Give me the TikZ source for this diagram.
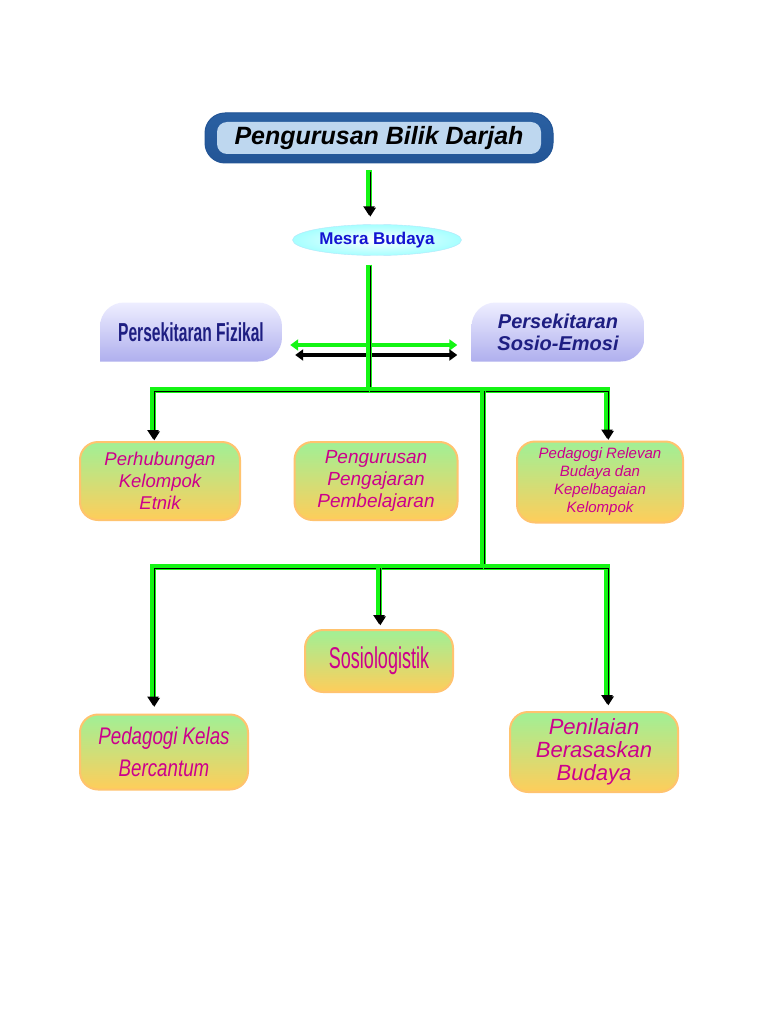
\documentclass[tikz,border=0pt]{standalone}
\usepackage{fontspec}
\setmainfont{Liberation Sans}
\newfontfamily\narrowfont[FakeStretch=0.6]{Liberation Sans}
\newfontfamily\semifont[FakeStretch=0.78]{Liberation Sans}
\usetikzlibrary{arrows.meta}
\usetikzlibrary{shapes.geometric}

\definecolor{lgreen}{RGB}{20,245,20}
\definecolor{boxtop}{RGB}{160,240,150}
\definecolor{boxmid}{RGB}{225,240,125}
\definecolor{boxbot}{RGB}{255,205,90}
\definecolor{boxglow}{RGB}{255,195,110}
\definecolor{txtmag}{RGB}{204,0,140}
\definecolor{envtop}{RGB}{238,238,255}
\definecolor{envbot}{RGB}{175,175,238}
\definecolor{envtxt}{RGB}{30,30,130}
\definecolor{titleout}{RGB}{70,140,210}
\definecolor{titlemid}{RGB}{232,245,253}
\definecolor{titleline}{RGB}{35,85,150}
\definecolor{mesratxt}{RGB}{20,20,210}

\tikzset{
  link/.style={draw=lgreen, line width=6pt,
    postaction={draw=black, line width=1.5pt, transform canvas={xshift=1.3pt, yshift=-1.3pt}}},
  flow/.style={link, -{Triangle[black, length=9pt, width=11pt]}},
  twoway/.style={line width=4pt, {Triangle[length=8pt, width=11pt]}-{Triangle[length=8pt, width=11pt]}},
  titlebox/.style={rounded corners=20pt, minimum width=348pt, minimum height=50pt,
    draw=titleline, line width=1pt, fill=titleout,
    path picture={
      \shade[top color=titleline!80!titleout, middle color=titleout!75!white, bottom color=titleline]
        (path picture bounding box.south west) rectangle (path picture bounding box.north east);
      \shade[rounded corners=10pt, top color=titleout!35!white, middle color=titlemid, bottom color=titleout!35!white]
        ([shift={(12pt,-9pt)}]path picture bounding box.north west)
        rectangle ([shift={(-12pt,9pt)}]path picture bounding box.south east);},
    font=\bfseries\itshape\fontsize{25}{28}\selectfont},
  mesrabox/.style={ellipse, minimum width=169pt, minimum height=31pt, inner sep=1pt,
    inner color=white, outer color=cyan!35, draw=cyan!30,
    text=mesratxt, font=\bfseries\fontsize{17}{19}\selectfont},
  envbox/.style={minimum height=59pt, inner sep=3pt, align=center, text=envtxt, fill=white,
    path picture={\shade[top color=envtop, bottom color=envbot]
      (path picture bounding box.south west) [rounded corners=24pt]
      -- (path picture bounding box.north west) -- (path picture bounding box.north east)
      -- (path picture bounding box.south east) [sharp corners] -- cycle;}},
  rowbox/.style={rounded corners=18pt, inner sep=3pt, align=center, text=txtmag,
    top color=boxtop, middle color=boxmid, bottom color=boxbot, draw=boxglow, line width=2pt}
}

\begin{document}
\begin{tikzpicture}[x=1pt, y=-1pt]
\fill[white] (0,0) rectangle (768,1024);
\useasboundingbox (0,0) rectangle (768,1024);

% top of the tree
\node[titlebox] (title) at (379,138) {Pengurusan Bilik Darjah};
\node[mesrabox] (mesra) at (377,240) {Mesra Budaya};
\node[envbox, minimum width=182pt, font=\narrowfont\bfseries\fontsize{26}{28}\selectfont] (fizikal) at (191,332) {Persekitaran Fizikal};
\node[envbox, minimum width=173pt, font=\bfseries\itshape\fontsize{20}{22}\selectfont] (sosio) at (558,332) {Persekitaran\\Sosio-Emosi};

% first row
\node[rowbox, minimum width=160pt, minimum height=78pt, font=\itshape\fontsize{18.5}{22}\selectfont] (etnik) at (160,481) {Perhubungan\\Kelompok\\Etnik};
\node[rowbox, minimum width=163pt, minimum height=78pt, font=\itshape\fontsize{19}{22}\selectfont] (pdp) at (376,481) {Pengurusan\\Pengajaran\\Pembelajaran};
\node[rowbox, minimum width=166pt, minimum height=81pt, font=\itshape\fontsize{15}{18}\selectfont] (relevan) at (600,482) {Pedagogi Relevan\\Budaya dan\\Kepelbagaian\\Kelompok};

% second row
\node[rowbox, minimum width=148pt, minimum height=62pt, font=\narrowfont\fontsize{30}{32}\selectfont] (sosiol) at (379,661) {Sosiologistik};
\node[rowbox, minimum width=168pt, minimum height=75pt, font=\semifont\itshape\fontsize{24}{32}\selectfont] (cantum) at (164,752) {Pedagogi Kelas\\Bercantum};
\node[rowbox, minimum width=168pt, minimum height=80pt, font=\itshape\fontsize{22}{23}\selectfont] (budaya) at (594,752) {Penilaian\\Berasaskan\\Budaya};

\coordinate (j1) at (369,390);
\coordinate (j2) at (483,567);

% two-way arrows between the surroundings
\draw[twoway, lgreen] ([shift={(8,13)}]fizikal.east) -- ([shift={(-14,13)}]sosio.west);
\draw[twoway, black] ([shift={(13,23)}]fizikal.east) -- ([shift={(-14,23)}]sosio.west);

\draw[flow] ([shift={(-10,7)}]title.south) -- ([shift={(-8,-9)}]mesra.north);
\draw[link] ([shift={(-8,9)}]mesra.south) -- (j1);
\draw[flow] (j1) -| ([shift={(-7,-2)}]etnik.north);
\draw[flow] (j1) -| ([shift={(7,-2)}]relevan.north);
\draw[link] (j1 -| j2) -- (j2);
\draw[flow] (j2) -| ([shift={(-11,-8)}]cantum.north);
\draw[flow] (j2) -| ([shift={(13,-7)}]budaya.north);
\draw[flow] (j2 -| sosiol.north) -- ([shift={(0,-5)}]sosiol.north);
\end{tikzpicture}
\end{document}
